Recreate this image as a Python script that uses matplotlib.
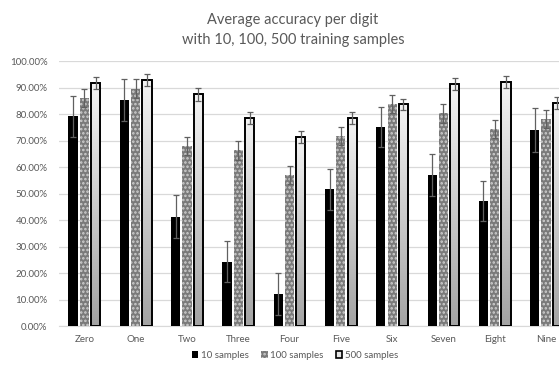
import numpy as np
import matplotlib
matplotlib.use("Agg")
import matplotlib.pyplot as plt
from matplotlib.patches import Patch
from matplotlib.ticker import FuncFormatter

plt.rcParams['font.family'] = ['Lato', 'DejaVu Sans']
plt.rcParams['hatch.linewidth'] = 1.2

digits = ['Zero', 'One', 'Two', 'Three', 'Four', 'Five', 'Six', 'Seven', 'Eight', 'Nine']
series = ['10 samples', '100 samples', '500 samples']

acc10 = [79.3, 85.4, 41.4, 24.4, 12.1, 51.7, 75.2, 57.1, 47.4, 74.1]
acc100 = [86.2, 89.7, 67.9, 66.4, 57.1, 71.8, 83.9, 80.4, 74.5, 78.1]
acc500 = [91.8, 92.8, 87.5, 78.7, 71.4, 78.7, 83.8, 91.4, 92.3, 84.4]
err10 = [7.7, 8.0, 8.0, 7.7, 7.9, 7.7, 7.4, 7.8, 7.5, 8.2]
err100 = [3.5, 3.5, 3.4, 3.6, 3.5, 3.5, 3.5, 3.5, 3.3, 3.4]
err500 = [2.2, 2.3, 2.3, 2.3, 2.4, 2.3, 2.1, 2.2, 2.3, 2.3]

txt = '#595959'
grid = '#d9d9d9'

fig = plt.figure(figsize=(5.59, 3.65), dpi=100)
ax = fig.add_axes([58.7/559, 1-326.3/365, 513/559, 265/365])

x = np.arange(len(digits))
w = 0.18
off = 0.22
ebar = dict(ecolor='#606060', elinewidth=0.9, capsize=2.2, capthick=0.9)

ax.bar(x-off, acc10, w, color='black', yerr=err10, error_kw=ebar, zorder=3)
ax.bar(x, acc100, w, color='#7a7a7a', edgecolor='#cfcfcf', hatch='....',
       linewidth=0, yerr=err100, error_kw=ebar, zorder=3)
bars500 = ax.bar(x+off, acc500, w, color='none', edgecolor='black', linewidth=1.4,
                 yerr=err500, error_kw=ebar, zorder=4)

# vertical gradient fill for the 500 samples bars
grad = np.linspace(0, 1, 256).reshape(-1, 1)
cmap = matplotlib.colors.LinearSegmentedColormap.from_list('g', ['#a3a3a3', '#f4f4f4'])
for b in bars500:
    bx, by = b.get_x(), b.get_y()
    im = ax.imshow(grad, cmap=cmap, origin='lower', aspect='auto',
                   extent=[bx, bx+b.get_width(), by, by+b.get_height()], zorder=3.5)
    im.set_clip_path(b)

ax.set_xlim(-0.5, 9.5)
ax.set_ylim(0, 100)
ax.set_yticks(np.arange(0, 101, 10))
ax.yaxis.set_major_formatter(FuncFormatter(lambda v, p: f'{v:.2f}%'))
ax.set_xticks(x)
ax.set_xticklabels(digits)
ax.grid(axis='y', color=grid, linewidth=0.9, zorder=0)
for s in ['top', 'right', 'left']:
    ax.spines[s].set_visible(False)
ax.spines['bottom'].set_color(grid)
ax.tick_params(axis='both', length=0, colors=txt, labelsize=7)
ax.tick_params(axis='x', pad=6)
ax.tick_params(axis='y', pad=8)

fig.text(293/559, 1-20/365, 'Average accuracy per digit', ha='center', va='center',
         fontsize=10.5, color=txt)
fig.text(293/559, 1-40/365, 'with 10, 100, 500 training samples', ha='center', va='center',
         fontsize=10.5, color=txt)

handles = [Patch(facecolor='black', label=series[0]),
           Patch(facecolor='#7a7a7a', edgecolor='#cfcfcf', hatch='....', linewidth=0, label=series[1]),
           Patch(facecolor='#e6e6e6', edgecolor='black', linewidth=1.2, label=series[2])]
fig.legend(handles=handles, loc='center', bbox_to_anchor=(295/559, 1-355/365), ncol=3,
           frameon=False, fontsize=7, labelcolor=txt, handlelength=0.7, handleheight=0.7,
           handletextpad=0.3, columnspacing=1.2)

plt.savefig('out.png', dpi=100)
